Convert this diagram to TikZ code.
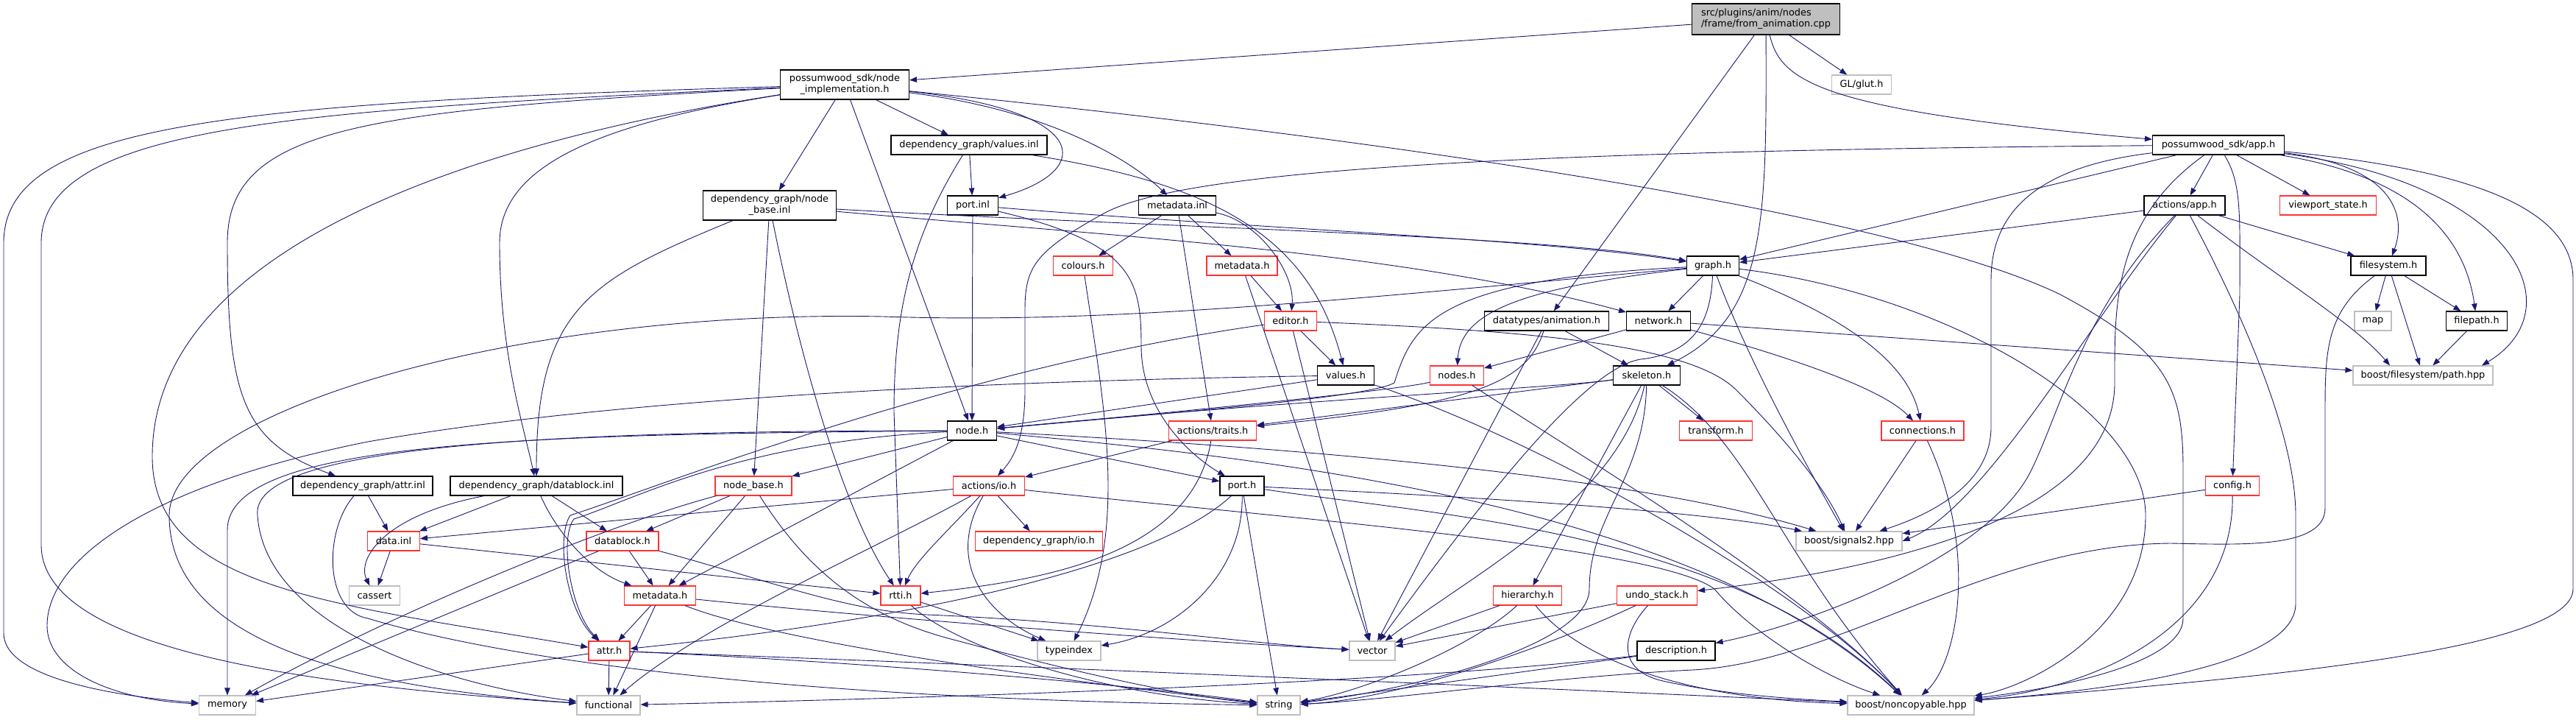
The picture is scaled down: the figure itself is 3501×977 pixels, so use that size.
\documentclass[tikz,border=0pt]{standalone}
\usepackage{fontspec}
\setmainfont{DejaVu Sans}
\usetikzlibrary{arrows.meta,calc}
\definecolor{edgec}{HTML}{191970}
\definecolor{redb}{HTML}{FF3333}
\definecolor{grayb}{HTML}{BFBFBF}
\definecolor{rootf}{HTML}{BFBFBF}
\newcommand\nfont{\fontsize{12.9}{15}\selectfont}
\tikzset{
  nb/.style={draw=black, line width=1.1pt, fill=white, inner sep=0pt, minimum height=26pt, font=\nfont, align=center},
  nr/.style={nb, draw=redb},
  ng/.style={nb, draw=grayb},
  edg/.style={draw=edgec, line width=0.9pt, -{Triangle[length=10pt,width=7.5pt]}, fill=none},
}
\begin{document}
\begin{tikzpicture}[x=1pt,y=-1pt]
\useasboundingbox (0,0) rectangle (3501,977);
% nodes
\node[nb, fill=rootf, minimum width=201pt, minimum height=42pt, align=left] (root) at (2400,26) {src/plugins/anim/nodes\\/frame/from\_animation.cpp};
\node[ng, minimum width=81pt] (glut) at (2530,115) {GL/glut.h};
\node[nb, minimum width=175pt, minimum height=40pt] (nimpl) at (1148,115) {possumwood\_sdk/node\\\_implementation.h};
\node[nb, minimum width=179pt] (app) at (3015,197) {possumwood\_sdk/app.h};
\node[nb, minimum width=212pt] (valinl) at (1317,197) {dependency\_graph/values.inl};
\node[nb, minimum width=181pt, minimum height=40pt] (nbinl) at (1046,279) {dependency\_graph/node\\\_base.inl};
\node[nb, minimum width=69pt] (portinl) at (1322,279) {port.inl};
\node[nb, minimum width=105pt] (mdinl) at (1600,279) {metadata.inl};
\node[nb, minimum width=110pt] (actapp) at (2969,279) {actions/app.h};
\node[nr, minimum width=131pt] (viewport) at (3164,279) {viewport\_state.h};
\node[nr, minimum width=81pt] (colours) at (1472,361) {colours.h};
\node[nr, minimum width=96pt] (mdtop) at (1688,361) {metadata.h};
\node[nb, minimum width=71pt] (graph) at (2328,361) {graph.h};
\node[nb, minimum width=102pt] (fsys) at (3246,361) {filesystem.h};
\node[nr, minimum width=71pt] (editor) at (1754,436) {editor.h};
\node[nb, minimum width=169pt] (anim) at (2102,436) {datatypes/animation.h};
\node[nb, minimum width=87pt] (network) at (2254,436) {network.h};
\node[ng, minimum width=50pt] (map) at (3225,436) {map};
\node[nb, minimum width=83pt] (fpath) at (3366,436) {filepath.h};
\node[nb, minimum width=77pt] (valh) at (1829,510) {values.h};
\node[nr, minimum width=73pt] (nodesh) at (1980,510) {nodes.h};
\node[nb, minimum width=91pt] (skel) at (2238,510) {skeleton.h};
\node[ng, minimum width=190pt] (pathhpp) at (3293,510) {boost/filesystem/path.hpp};
\node[nb, minimum width=67pt] (nodeh) at (1321,585) {node.h};
\node[nr, minimum width=119pt] (traits) at (1648,585) {actions/traits.h};
\node[nr, minimum width=99pt] (transform) at (2332,585) {transform.h};
\node[nr, minimum width=112pt] (conn) at (2613,585) {connections.h};
\node[nb, minimum width=190pt] (attrinl) at (493,660) {dependency\_graph/attr.inl};
\node[nb, minimum width=234pt] (dbinl) at (729,660) {dependency\_graph/datablock.inl};
\node[nr, minimum width=104pt] (nbh) at (1024,660) {node\_base.h};
\node[nr, minimum width=97pt] (actio) at (1344,660) {actions/io.h};
\node[nb, minimum width=60pt] (porth) at (1688,660) {port.h};
\node[nr, minimum width=73pt] (config) at (3034,660) {config.h};
\node[nr, minimum width=71pt] (datainl) at (535,735) {data.inl};
\node[nr, minimum width=98pt] (dbh) at (846,735) {datablock.h};
\node[nr, minimum width=173pt] (gio) at (1412,735) {dependency\_graph/io.h};
\node[ng, minimum width=144pt] (sig) at (2513,735) {boost/signals2.hpp};
\node[ng, minimum width=69pt] (cassert) at (509,809) {cassert};
\node[nr, minimum width=97pt] (mdlow) at (897,809) {metadata.h};
\node[nr, minimum width=54pt] (rtti) at (1224,809) {rtti.h};
\node[nr, minimum width=93pt] (hier) at (2076,809) {hierarchy.h};
\node[nr, minimum width=109pt] (undo) at (2252,809) {undo\_stack.h};
\node[nr, minimum width=56pt] (attrh) at (828,884) {attr.h};
\node[ng, minimum width=86pt] (typeidx) at (1453,884) {typeindex};
\node[ng, minimum width=62pt] (vector) at (1865,884) {vector};
\node[nb, minimum width=106pt] (desc) at (2278,884) {description.h};
\node[ng, minimum width=77pt] (memory) at (309,958) {memory};
\node[ng, minimum width=86pt] (functional) at (827,958) {functional};
\node[ng, minimum width=58pt] (string) at (1738,958) {string};
\node[ng, minimum width=172pt] (noncopy) at (2597,958) {boost/noncopyable.hpp};
% root
\draw[edg] (root) -- (nimpl);
\draw[edg] (root) -- (glut);
\draw[edg] (root) .. controls (2420,110) and (2470,150) .. (app);
\draw[edg] (root) -- (anim);
\draw[edg] (root) .. controls (2401,300) and (2401,430) .. (skel);
% node_implementation
\draw[edg] (nimpl) .. controls (300,140) and (5,170) .. (5,330) -- (5,860) .. controls (5,920) and (150,945) .. (memory);
\draw[edg] (nimpl) .. controls (400,150) and (56,170) .. (56,330) -- (56,740) .. controls (56,880) and (400,930) .. (functional);
\draw[edg] (nimpl) .. controls (500,150) and (309,170) .. (309,330) .. controls (309,540) and (330,600) .. (attrinl);
\draw[edg] (nimpl) .. controls (600,200) and (207,350) .. (207,620) .. controls (207,800) and (450,820) .. (attrh);
\draw[edg] (nimpl) .. controls (800,170) and (679,230) .. (679,330) .. controls (679,480) and (712,580) .. (dbinl);
\draw[edg] (nimpl) -- (nbinl);
\draw[edg] (nimpl) -- (nodeh);
\draw[edg] (nimpl) -- (valinl);
\draw[edg] (nimpl) .. controls (1480,150) and (1490,230) .. (portinl);
\draw[edg] (nimpl) .. controls (1430,150) and (1540,220) .. (mdinl);
\draw[edg] (nimpl) .. controls (1800,180) and (2550,280) .. (2800,400) .. controls (2950,480) and (2967,530) .. (2967,640) -- (2967,840) .. controls (2967,900) and (2800,935) .. (noncopy);
% node_base.inl
\draw[edg] (nbinl) .. controls (1600,310) and (2100,320) .. (graph);
\draw[edg] (nbinl) .. controls (1500,320) and (1900,340) .. (network);
\draw[edg] (nbinl) .. controls (800,380) and (729,420) .. (dbinl);
\draw[edg] (nbinl) -- (nbh);
\draw[edg] (nbinl) .. controls (1090,500) and (1150,700) .. (rtti);
% values.inl
\draw[edg] (valinl) -- (portinl);
\draw[edg] (valinl) .. controls (1240,320) and (1215,420) .. (1215,560) -- (rtti);
\draw[edg] (valinl) .. controls (1650,250) and (1780,320) .. (valh);
% port.inl
\draw[edg] (portinl) -- (nodeh);
\draw[edg] (portinl) .. controls (1540,330) and (1551,380) .. (1551,470) .. controls (1551,560) and (1620,620) .. (porth);
\draw[edg] (portinl) .. controls (1700,310) and (2100,325) .. (graph);
% metadata.inl
\draw[edg] (mdinl) -- (colours);
\draw[edg] (mdinl) -- (mdtop);
\draw[edg] (mdinl) .. controls (1710,300) and (1760,370) .. (editor);
\draw[edg] (mdinl) -- (traits);
% metadata.h top
\draw[edg] (mdtop) -- (editor);
\draw[edg] (mdtop) -- (vector);
% colours
\draw[edg] (colours) .. controls (1500,550) and (1535,720) .. (typeidx);
% editor
\draw[edg] (editor) -- (valh);
\draw[edg] (editor) -- (vector);
\draw[edg] (editor) .. controls (1300,500) and (900,660) .. (775,700) .. controls (755,730) and (770,830) .. (attrh);
\draw[edg] (editor) .. controls (2100,450) and (2300,470) .. (2360,530) .. controls (2420,590) and (2480,660) .. (sig);
% values.h
\draw[edg] (valh) -- (nodeh);
\draw[edg] (valh) .. controls (1500,515) and (900,530) .. (500,600) .. controls (200,660) and (64,760) .. (64,850) .. controls (64,910) and (150,950) .. (memory);
\draw[edg] (valh) .. controls (2100,600) and (2450,800) .. (noncopy);
% nodes.h
\draw[edg] (nodesh) .. controls (1900,530) and (1600,560) .. (nodeh);
\draw[edg] (nodesh) .. controls (2150,620) and (2450,800) .. (noncopy);
% graph.h
\draw[edg] (graph) -- (network);
\draw[edg] (graph) .. controls (2080,390) and (1985,420) .. (nodesh);
\draw[edg] (graph) .. controls (1950,380) and (1920,440) .. (1895,520) .. controls (1860,540) and (1600,560) .. (nodeh);
\draw[edg] (graph) .. controls (1800,410) and (1500,440) .. (1200,430) .. controls (700,420) and (230,560) .. (230,700) .. controls (230,880) and (500,935) .. (functional);
\draw[edg] (graph) .. controls (2480,420) and (2590,480) .. (conn);
\draw[edg] (graph) .. controls (2650,400) and (2916,560) .. (2916,700) .. controls (2916,860) and (2750,935) .. (noncopy);
\draw[edg] (graph) .. controls (2380,500) and (2460,640) .. (sig);
\draw[edg] (graph) .. controls (2325,440) and (2300,480) .. (2230,488) .. controls (2150,500) and (2000,700) .. (vector);
% network.h
\draw[edg] (network) -- (nodesh);
\draw[edg] (network) -- (pathhpp);
\draw[edg] (network) .. controls (2450,490) and (2560,530) .. (conn);
% animation
\draw[edg] (anim) -- (skel);
\draw[edg] (anim) .. controls (2075,525) and (1990,550) .. (traits);
\draw[edg] (anim) -- (vector);
% skeleton
\draw[edg] (skel) -- (transform);
\draw[edg] (skel) .. controls (2100,528) and (1800,540) .. (nodeh);
\draw[edg] (skel) -- (traits);
\draw[edg] (skel) .. controls (2200,680) and (2000,780) .. (vector);
\draw[edg] (skel) -- (hier);
\draw[edg] (skel) .. controls (2235,650) and (2160,700) .. (2160,800) .. controls (2160,880) and (1900,940) .. (string);
\draw[edg] (skel) .. controls (2380,600) and (2420,760) .. (noncopy);
% node.h
\draw[edg] (nodeh) -- (porth);
\draw[edg] (nodeh) -- (nbh);
\draw[edg] (nodeh) .. controls (700,590) and (309,600) .. (309,720) -- (memory);
\draw[edg] (nodeh) .. controls (700,585) and (340,610) .. (350,700) .. controls (360,850) and (600,930) .. (functional);
\draw[edg] (nodeh) .. controls (1000,600) and (860,680) .. (780,705) .. controls (760,730) and (775,830) .. (attrh);
\draw[edg] (nodeh) -- (mdlow);
\draw[edg] (nodeh) .. controls (1700,605) and (2200,640) .. (sig);
\draw[edg] (nodeh) .. controls (1700,620) and (2300,680) .. (noncopy);
% port.h
\draw[edg] (porth) .. controls (1580,760) and (1300,835) .. (attrh);
\draw[edg] (porth) .. controls (1690,780) and (1600,860) .. (typeidx);
\draw[edg] (porth) -- (string);
\draw[edg] (porth) .. controls (1900,670) and (2300,690) .. (sig);
\draw[edg] (porth) .. controls (1950,700) and (2350,720) .. (noncopy);
% actions/io.h
\draw[edg] (actio) -- (gio);
\draw[edg] (actio) .. controls (1290,720) and (1245,760) .. (rtti);
\draw[edg] (actio) .. controls (1280,770) and (1350,840) .. (typeidx);
\draw[edg] (actio) .. controls (1200,740) and (950,850) .. (functional);
\draw[edg] (actio) -- (datainl);
\draw[edg] (actio) .. controls (1700,700) and (2250,740) .. (2330,800) .. controls (2380,860) and (2480,920) .. (noncopy);
% actions/traits.h
\draw[edg] (traits) -- (actio);
\draw[edg] (traits) .. controls (1620,760) and (1400,790) .. (rtti);
% hierarchy
\draw[edg] (hier) -- (vector);
\draw[edg] (hier) .. controls (2000,880) and (1850,940) .. (string);
\draw[edg] (hier) .. controls (2150,900) and (2300,950) .. (noncopy);
% undo_stack
\draw[edg] (undo) -- (vector);
\draw[edg] (undo) .. controls (2100,880) and (1900,950) .. (string);
\draw[edg] (undo) .. controls (2205,860) and (2195,910) .. (2260,925) .. controls (2350,945) and (2450,950) .. (noncopy);
% description
\draw[edg] (desc) .. controls (1900,930) and (1200,950) .. (functional);
\draw[edg] (desc) -- (string);
% attr.h
\draw[edg] (attrh) -- (functional);
\draw[edg] (attrh) -- (memory);
\draw[edg] (attrh) .. controls (1100,895) and (1500,925) .. (string);
\draw[edg] (attrh) .. controls (1400,905) and (2100,935) .. (noncopy);
% metadata.h low
\draw[edg] (mdlow) -- (attrh);
\draw[edg] (mdlow) -- (functional);
\draw[edg] (mdlow) .. controls (1200,840) and (1600,870) .. (vector);
\draw[edg] (mdlow) .. controls (1050,870) and (1400,920) .. (string);
% datablock.h
\draw[edg] (dbh) -- (mdlow);
\draw[edg] (dbh) -- (memory);
\draw[edg] (dbh) .. controls (1050,790) and (1150,830) .. (1260,835) .. controls (1500,845) and (1700,875) .. (vector);
% node_base.h
\draw[edg] (nbh) -- (dbh);
\draw[edg] (nbh) -- (mdlow);
\draw[edg] (nbh) .. controls (800,720) and (500,850) .. (memory);
\draw[edg] (nbh) .. controls (1100,780) and (1180,840) .. (1300,870) .. controls (1450,910) and (1600,945) .. (string);
% datablock.inl
\draw[edg] (dbinl) -- (datainl);
\draw[edg] (dbinl) -- (dbh);
\draw[edg] (dbinl) .. controls (755,720) and (800,775) .. (mdlow);
\draw[edg] (dbinl) .. controls (520,700) and (485,760) .. (cassert);
% attr.inl
\draw[edg] (attrinl) -- (datainl);
\draw[edg] (attrinl) .. controls (440,720) and (440,830) .. (500,840) .. controls (700,900) and (1100,950) .. (string);
% data.inl
\draw[edg] (datainl) -- (cassert);
\draw[edg] (datainl) -- (rtti);
% rtti
\draw[edg] (rtti) -- (typeidx);
\draw[edg] (rtti) .. controls (1300,880) and (1500,945) .. (string);
% app.h
\draw[edg] (app) -- (actapp);
\draw[edg] (app) -- (viewport);
\draw[edg] (app) .. controls (3047,250) and (3044,290) .. (3044,400) -- (config);
\draw[edg] (app) .. controls (3250,225) and (3272,290) .. (fsys);
\draw[edg] (app) .. controls (3280,240) and (3350,320) .. (fpath);
\draw[edg] (app) .. controls (3420,250) and (3500,420) .. ($(pathhpp.north)+(80,0)$);
\draw[edg] (app) .. controls (3350,230) and (3497,280) .. (3497,380) -- (3497,800) .. controls (3497,880) and (3100,920) .. (noncopy);
\draw[edg] (app) -- (graph);
\draw[edg] (app) .. controls (2000,205) and (1600,235) .. (1500,290) .. controls (1410,340) and (1393,360) .. (1393,420) -- (1393,530) .. controls (1393,600) and (1375,625) .. (actio);
\draw[edg] (app) .. controls (2780,225) and (2706,280) .. (2706,380) -- (2706,580) .. controls (2706,660) and (2620,700) .. (sig);
\draw[edg] (app) .. controls (2870,300) and (2874,420) .. (2874,520) .. controls (2874,720) and (2500,780) .. (undo);
% actions/app.h
\draw[edg] (actapp) -- (graph);
\draw[edg] (actapp) -- (fsys);
\draw[edg] (actapp) .. controls (3100,380) and (3200,440) .. ($(pathhpp.north)+(-45,0)$);
\draw[edg] (actapp) .. controls (3060,450) and (3120,600) .. (3120,700) -- (3120,820) .. controls (3120,900) and (2900,935) .. (noncopy);
\draw[edg] (actapp) .. controls (2830,420) and (2800,560) .. (2760,640) .. controls (2700,760) and (2450,850) .. (desc);
\draw[edg] (actapp) .. controls (2850,420) and (2700,690) .. (sig.east);
% filesystem.h
\draw[edg] (fsys) -- (map);
\draw[edg] (fsys) -- (fpath);
\draw[edg] (fsys) -- (pathhpp);
\draw[edg] (fsys) .. controls (3165,420) and (3160,470) .. (3160,550) -- (3160,690) .. controls (3160,745) and (3050,740) .. (2950,738) .. controls (2700,740) and (2500,900) .. (2300,910) .. controls (2100,920) and (1900,950) .. (string);
% filepath
\draw[edg] (fpath) -- (pathhpp);
% config
\draw[edg] (config) -- (sig);
\draw[edg] (config) .. controls (3036,850) and (2850,935) .. (noncopy);
% connections
\draw[edg] (conn) -- (sig);
\draw[edg] (conn) .. controls (2690,750) and (2660,900) .. (noncopy);
\end{tikzpicture}
\end{document}
